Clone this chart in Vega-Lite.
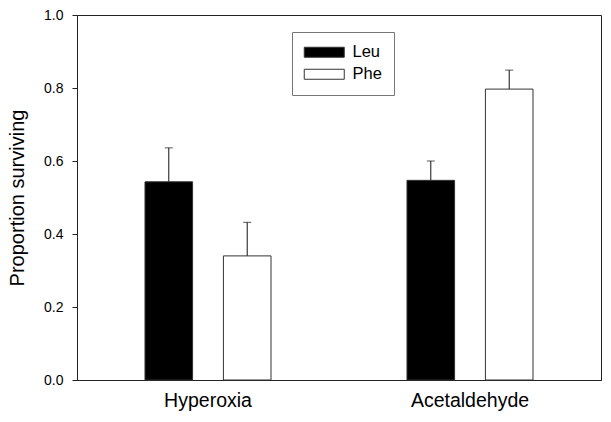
{
  "$schema": "https://vega.github.io/schema/vega-lite/v6.json",
  "autosize": "none",
  "width": 524,
  "height": 365,
  "padding": {"left": 77, "top": 15, "right": 10, "bottom": 42},
  "background": "white",
  "config": {
    "font": "Liberation Sans",
    "view": {"stroke": "#222", "strokeWidth": 1},
    "axis": {"grid": false, "domainColor": "#222", "tickColor": "#222", "labelColor": "#000", "titleColor": "#000", "labelFont": "Liberation Sans", "titleFont": "Liberation Sans"}
  },
  "data": {
    "values": [
      {"condition": "Hyperoxia", "group": "Leu", "mean": 0.543, "upper": 0.636},
      {"condition": "Hyperoxia", "group": "Phe", "mean": 0.340, "upper": 0.432},
      {"condition": "Acetaldehyde", "group": "Leu", "mean": 0.547, "upper": 0.600},
      {"condition": "Acetaldehyde", "group": "Phe", "mean": 0.797, "upper": 0.849}
    ]
  },
  "encoding": {
    "x": {
      "field": "condition", "type": "nominal", "sort": ["Hyperoxia", "Acetaldehyde"],
      "scale": {"paddingInner": 0, "paddingOuter": 0},
      "axis": {"title": null, "labelAngle": 0, "ticks": false, "labelFontSize": 19.5, "labelPadding": 11, "domain": true}
    },
    "xOffset": {
      "field": "group", "type": "nominal", "sort": ["Leu", "Phe"],
      "scale": {"paddingInner": 0.393, "paddingOuter": 0.867}
    }
  },
  "layer": [
    {
      "mark": {"type": "rule", "color": "#111", "strokeWidth": 1},
      "encoding": {
        "y": {"field": "mean", "type": "quantitative"},
        "y2": {"field": "upper"}
      }
    },
    {
      "mark": {"type": "tick", "color": "#111", "size": 8, "thickness": 1},
      "encoding": {
        "y": {"field": "upper", "type": "quantitative"}
      }
    },
    {
      "mark": {"type": "bar", "strokeWidth": 1},
      "encoding": {
        "y": {
          "field": "mean", "type": "quantitative",
          "scale": {"domain": [0, 1], "nice": false, "zero": true},
          "axis": {"title": "Proportion surviving", "titleFontSize": 20, "titleFontWeight": "normal", "titlePadding": 16, "values": [0, 0.2, 0.4, 0.6, 0.8, 1.0], "format": ".1f", "labelFontSize": 14, "labelPadding": 9, "tickSize": 5}
        },
        "fill": {
          "field": "group", "type": "nominal", "sort": ["Leu", "Phe"],
          "scale": {"domain": ["Leu", "Phe"], "range": ["#000000", "#ffffff"]},
          "legend": {
            "title": null, "orient": "none", "legendX": 215, "legendY": 17,
            "padding": 12, "strokeColor": "#777", "fillColor": "white",
            "symbolType": "M-4,-1H4V1H-4Z", "symbolSize": 100, "symbolOffset": 12,
            "symbolStrokeColor": "#333", "symbolStrokeWidth": 1, "symbolOpacity": 1,
            "labelFontSize": 16.5, "labelOffset": 20, "rowPadding": 5
          }
        },
        "stroke": {"value": "#333"}
      }
    }
  ]
}
